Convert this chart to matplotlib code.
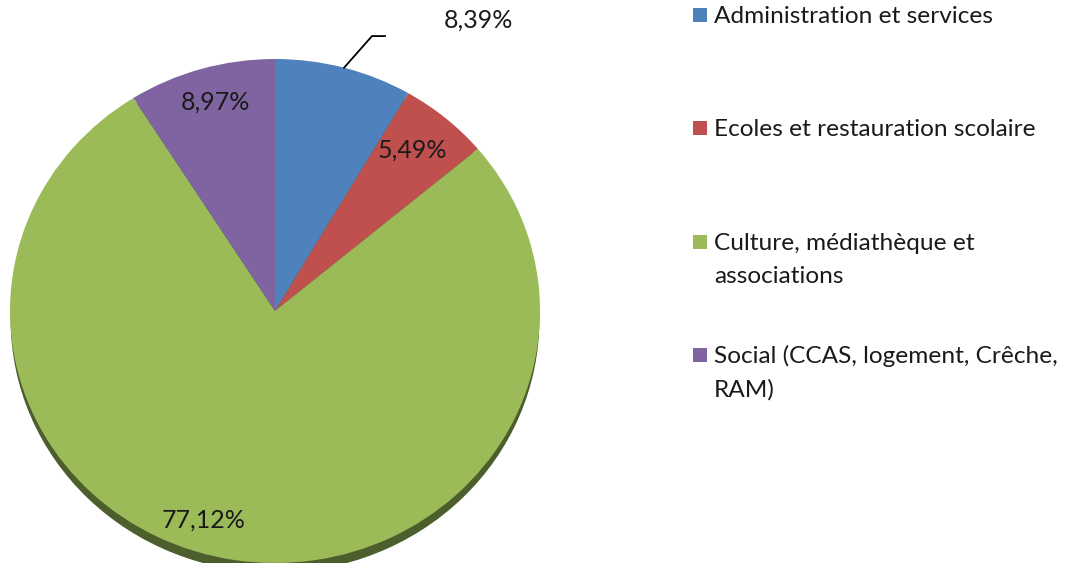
import matplotlib.pyplot as plt
import numpy as np
from matplotlib.patches import Ellipse, Rectangle

# Répartition des subventions par secteur
categories = [
    "Administration et services",
    "Ecoles et restauration scolaire",
    "Culture, médiathèque et\nassociations",
    "Social (CCAS, logement, Crêche,\nRAM)",
]
parts = [8.39, 5.49, 77.12, 8.97]
colors = ["#4F81BD", "#C0504D", "#9BBB59", "#8064A2"]

plt.rcParams['font.family'] = ['Lato', 'DejaVu Sans']

W, H = 1066, 579
fig = plt.figure(figsize=(W / 100, H / 100), dpi=100)

# pie area in pixels: left, top, right, bottom
px_l, px_t, px_r, px_b = 10, 59, 540, 563
ax = fig.add_axes([px_l / W, 1 - px_b / H, (px_r - px_l) / W, (px_b - px_t) / H])

# darker rim under the disc
ax.add_patch(Ellipse((0, -0.035), 1.99, 2.0, color="#4B5E2B", zorder=0))

wedges, _ = ax.pie(parts, colors=colors, startangle=90, counterclock=False,
                   radius=1.0, wedgeprops=dict(linewidth=0))
for w in wedges:
    w.set_zorder(1)
ax.set_aspect('auto')
ax.set_xlim(-1, 1)
ax.set_ylim(-1, 1)
ax.axis('off')

labels = [f"{v:.2f}".replace('.', ',') + "%" for v in parts]
# label anchors in axes units
label_pos = [(0.766, 1.155), (0.52, 0.64), (-0.27, -0.83), (-0.226, 0.83)]
for w, txt, (lx, ly) in zip(wedges, labels, label_pos):
    ax.text(lx, ly, txt, ha='center', va='center', fontsize=18,
            color="#1a1a1a", zorder=3, clip_on=False)

# leader line for the small blue slice, labelled outside the disc
w0 = wedges[0]
mid = np.deg2rad((w0.theta1 + w0.theta2) / 2)
x0, y0 = np.cos(mid), np.sin(mid)
ax.plot([x0, 0.366, 0.415], [y0, 1.091, 1.091], color="black", lw=1.3,
        zorder=3, clip_on=False)

# legend, evenly spaced entries
base0, step, line_step = 23, 113.3, 33.5
for i, (lab, c) in enumerate(zip(categories, colors)):
    yb = base0 + i * step
    fig.add_artist(Rectangle((693 / W, 1 - (yb - 1) / H), 14 / W, 14 / H,
                             transform=fig.transFigure, facecolor=c,
                             edgecolor='none'))
    for j, line in enumerate(lab.split('\n')):
        fig.text(714 / W, 1 - (yb + j * line_step) / H, line, fontsize=17.6,
                 va='baseline', ha='left', color="#1a1a1a")

fig.savefig("out.png", dpi=100)
